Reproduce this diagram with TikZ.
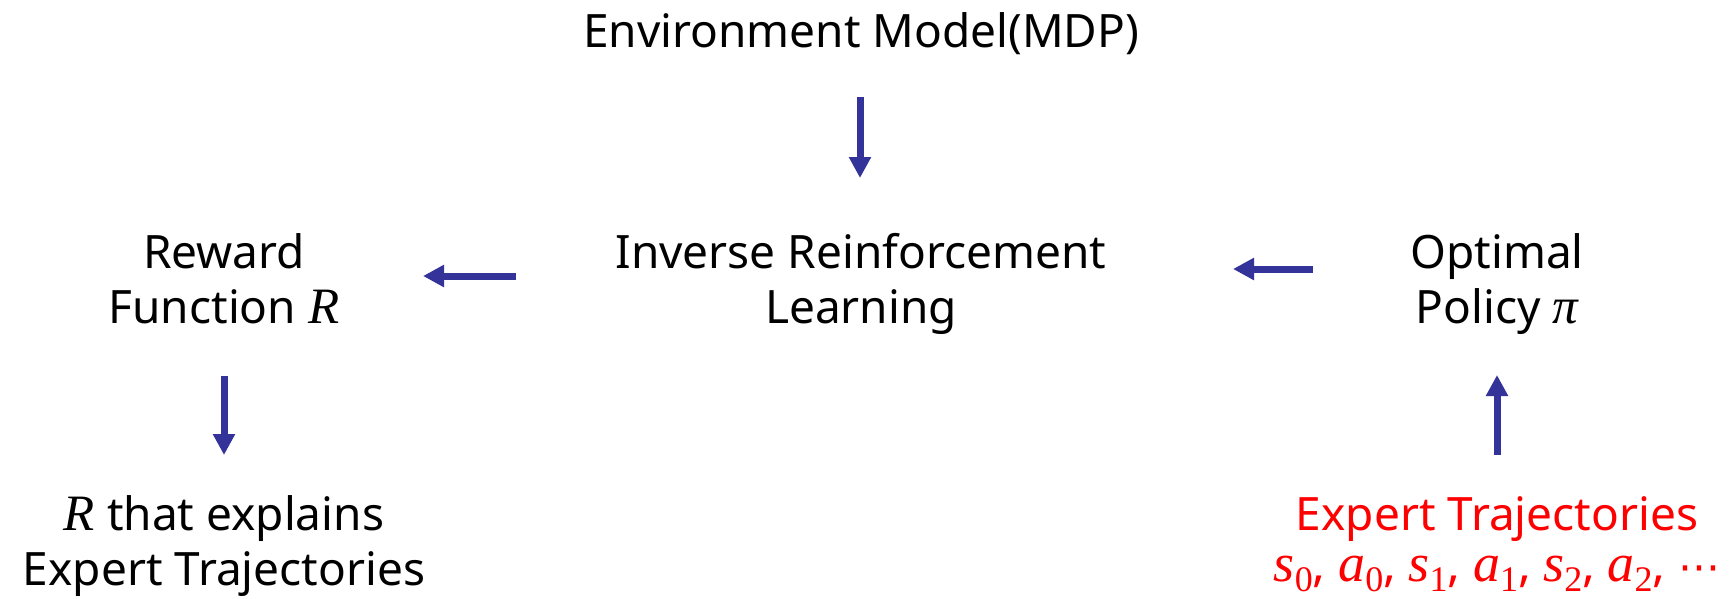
\documentclass[tikz,border=0pt]{standalone}
\usepackage{fontspec}
\setmainfont{Noto Sans}
\newfontfamily\mfont{Liberation Serif}
\newfontfamily\symfont{DejaVu Sans}
\usetikzlibrary{arrows.meta}
\definecolor{arrblue}{RGB}{51,51,153}
\definecolor{expred}{RGB}{255,0,0}
\newcommand{\mv}[1]{{\mfont\itshape\fontsize{51}{51}\selectfont #1}}
\newcommand{\ms}[2]{{\mfont\itshape\fontsize{54}{54}\selectfont #1}\raisebox{-0.2em}{\mfont\fontsize{36}{36}\selectfont #2}}
\begin{document}
\begin{tikzpicture}[x=1pt,y=-1pt,
  lbl/.style={font=\fontsize{46}{55}\selectfont, align=center, inner sep=0pt},
  flow/.style={draw=arrblue, line width=7pt, -{Triangle[width=21pt,length=21pt]}, arrblue}]
\useasboundingbox (0,0) rectangle (1735,598);
\node[lbl] (env) at (861,34) {Environment Model(MDP)};
\node[lbl] (irl) at (861,284) {Inverse Reinforcement\\Learning};
\node[lbl] (rew) at (224,279) {Reward\\Function \mv{R}};
\node[lbl] (opt) at (1497,284) {Optimal\\Policy \mv{π}};
\node[lbl] (expl) at (224,546) {\mv{R} that explains\\Expert Trajectories};
\node[lbl, text=expred] (exp) at (1497,519) {Expert Trajectories};
\node[lbl, text=expred, font=\fontsize{48}{48}\selectfont] (seq) at (1497,574) {\ms{s}{0}, \ms{a}{0}, \ms{s}{1}, \ms{a}{1}, \ms{s}{2}, \ms{a}{2}, {\symfont\fontsize{42}{42}\selectfont ⋯}};
\coordinate (e1) at (860,97);
\coordinate (e2) at (860,178);
\coordinate (l1) at (516,276);
\coordinate (l2) at (423,276);
\coordinate (r1) at (1313,269);
\coordinate (r2) at (1233,269);
\coordinate (d1) at (224,376);
\coordinate (d2) at (224,455);
\coordinate (u1) at (1497,455);
\coordinate (u2) at (1497,375);
\draw[flow] (e1) -- (e2);
\draw[flow] (l1) -- (l2);
\draw[flow] (r1) -- (r2);
\draw[flow] (d1) -- (d2);
\draw[flow] (u1) -- (u2);
\end{tikzpicture}
\end{document}
